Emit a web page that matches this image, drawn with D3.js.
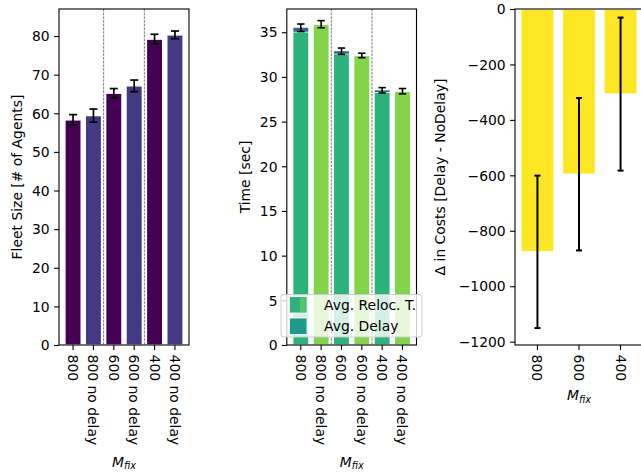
<!DOCTYPE html>
<html>
<head>
<meta charset="utf-8">
<script src="https://cdn.jsdelivr.net/npm/d3@7"></script>
<style>
  html, body { margin: 0; padding: 0; background: #fff; }
  text { font-family: "DejaVu Sans", sans-serif; }
</style>
</head>
<body>
<svg id="fig" width="641" height="473"></svg>
<script>
// Categories and measured values
const categories = ["800", "800 no delay", "600", "600 no delay", "400", "400 no delay"];
const fleetSize = [58.3, 59.4, 65.2, 67.1, 79.2, 80.3];
const fleetErr = [1.35, 1.7, 1.2, 1.5, 1.25, 1.0];

const relocTime = [35.05, 35.9, 32.6, 32.4, 28.3, 28.4];
const delayTime = [0.45, 0, 0.28, 0, 0.2, 0];
const timeErr = [0.42, 0.4, 0.35, 0.25, 0.3, 0.3];

const deltaCats = ["800", "600", "400"];
const deltaCost = [-876, -596, -307];
const deltaErr = [275, 275, 276];

const fleetTicks = [0, 10, 20, 30, 40, 50, 60, 70, 80];
const timeTicks = [0, 5, 10, 15, 20, 25, 30, 35];
const costTicks = [-1200, -1000, -800, -600, -400, -200, 0];

// Colours
const fleetColors = ["#440154", "#443983"];
const relocColors = ["#2db27d", "#84d44b"];
const delayColor = "#31688e";
const deltaColor = "#fde725";

const FS = 13.9;
const svg = d3.select("#fig");

function panel(opts) {
  const g = svg.append("g");
  const x = d3.scaleLinear().domain(opts.xdom).range([opts.left, opts.right]);
  const y = d3.scaleLinear().domain(opts.ydom).range([opts.bottom, opts.top]);
  return { g, x, y, ...opts };
}

function drawFrame(p, opts) {
  const g = p.g;
  // spines
  g.append("rect")
    .attr("x", p.left).attr("y", p.top)
    .attr("width", p.right - p.left).attr("height", p.bottom - p.top)
    .attr("fill", "none").attr("stroke", "#000").attr("stroke-width", 1.1);
  // y axis
  const yAxis = d3.axisLeft(p.y).tickValues(opts.yticks).tickSize(4.9).tickPadding(4.4)
    .tickFormat(d => d3.format("d")(d).replace("-", "\u2212"));
  const ya = g.append("g").attr("transform", `translate(${p.left},0)`).call(yAxis);
  ya.select(".domain").remove();
  ya.selectAll("line").attr("stroke", "#000").attr("stroke-width", 1.1);
  ya.selectAll("text").attr("font-size", FS).attr("fill", "#000")
    .attr("font-family", "DejaVu Sans, sans-serif").attr("dy", "0.34em");
  // x axis with rotated category labels
  const xa = g.append("g");
  opts.xcats.forEach((c, i) => {
    const xx = p.x(i);
    xa.append("line").attr("x1", xx).attr("x2", xx)
      .attr("y1", p.bottom).attr("y2", p.bottom + 4.9)
      .attr("stroke", "#000").attr("stroke-width", 1.1);
    xa.append("text")
      .attr("transform", `translate(${xx},${p.bottom + 9.6}) rotate(90)`)
      .attr("dy", "0.36em").attr("text-anchor", "start")
      .attr("font-size", FS).attr("fill", "#000").text(c);
  });
  // y label
  g.append("text")
    .attr("transform", `translate(${opts.ylabelX},${(p.top + p.bottom) / 2}) rotate(-90)`)
    .attr("text-anchor", "middle").attr("dy", "0.36em")
    .attr("font-size", FS).attr("fill", "#000").text(opts.ylabel);
  // x label M_fix
  const xl = g.append("text")
    .attr("x", (p.left + p.right) / 2).attr("y", opts.xlabelY)
    .attr("text-anchor", "middle").attr("font-size", FS).attr("fill", "#000");
  xl.append("tspan").attr("font-style", "italic").text("M");
  xl.append("tspan").attr("font-style", "italic").attr("font-size", FS * 0.7)
    .attr("dy", 2.6).text("fix");
}

function errorBars(p, centers, errs, half, lw) {
  centers.forEach((v, i) => {
    const xx = p.x(i);
    const y1 = p.y(v - errs[i]), y2 = p.y(v + errs[i]);
    p.g.append("line").attr("x1", xx).attr("x2", xx).attr("y1", y1).attr("y2", y2)
      .attr("stroke", "#000").attr("stroke-width", lw);
    [y1, y2].forEach(yy => p.g.append("line")
      .attr("x1", xx - half).attr("x2", xx + half).attr("y1", yy).attr("y2", yy)
      .attr("stroke", "#000").attr("stroke-width", lw));
  });
}

function separators(p, positions) {
  positions.forEach(pos => {
    p.g.append("line").attr("x1", p.x(pos)).attr("x2", p.x(pos))
      .attr("y1", p.top).attr("y2", p.bottom)
      .attr("stroke", "#444").attr("stroke-width", 0.7)
      .attr("stroke-dasharray", "2.6,1.1");
  });
}

// ---------- Panel 1: fleet size ----------
const p1 = panel({ left: 59, right: 189, top: 9, bottom: 345, xdom: [-0.69, 5.69], ydom: [0, 87] });
const bw1 = (p1.x(1) - p1.x(0)) * 0.8;
p1.g.selectAll("rect.bar").data(fleetSize).join("rect")
  .attr("class", "bar")
  .attr("x", (d, i) => p1.x(i) - bw1 / 2).attr("width", bw1)
  .attr("y", d => p1.y(d)).attr("height", d => p1.y(0) - p1.y(d))
  .attr("fill", (d, i) => fleetColors[i % 2])
  .attr("stroke", "#fff").attr("stroke-width", 1.4);
separators(p1, [1.5, 3.5]);
errorBars(p1, fleetSize, fleetErr, 4, 1.7);
drawFrame(p1, { yticks: fleetTicks, xcats: categories, ylabel: "Fleet Size [# of Agents]", ylabelX: 16.5, xlabelY: 466.5 });

// ---------- Panel 2: time ----------
const p2 = panel({ left: 286.8, right: 416.5, top: 9, bottom: 345, xdom: [-0.69, 5.69], ydom: [0, 37.6] });
const bw2 = (p2.x(1) - p2.x(0)) * 0.8;
p2.g.selectAll("rect.reloc").data(relocTime).join("rect")
  .attr("class", "reloc")
  .attr("x", (d, i) => p2.x(i) - bw2 / 2).attr("width", bw2)
  .attr("y", d => p2.y(d)).attr("height", d => p2.y(0) - p2.y(d))
  .attr("fill", (d, i) => relocColors[i % 2])
  .attr("stroke", "#fff").attr("stroke-width", 1.4);
// delay stacked on top of relocation time
delayTime.forEach((d, i) => {
  if (d <= 0) return;
  p2.g.append("rect")
    .attr("x", p2.x(i) - bw2 / 2 + 0.7).attr("width", bw2 - 1.4)
    .attr("y", p2.y(relocTime[i] + d)).attr("height", p2.y(relocTime[i]) - p2.y(relocTime[i] + d))
    .attr("fill", delayColor);
});
separators(p2, [1.5, 3.5]);
const timeTotals = relocTime.map((r, i) => r + delayTime[i]);
errorBars(p2, timeTotals, timeErr, 3.7, 1.6);
drawFrame(p2, { yticks: timeTicks, xcats: categories, ylabel: "Time [sec]", ylabelX: 245, xlabelY: 466.5 });

// legend
const lg = p2.g.append("g");
lg.append("rect").attr("x", 281).attr("y", 294.5).attr("width", 141).attr("height", 42.5)
  .attr("rx", 3).attr("fill", "#fff").attr("fill-opacity", 0.8)
  .attr("stroke", "#ccc").attr("stroke-width", 1);
lg.append("rect").attr("x", 289.5).attr("y", 296.5).attr("width", 17.5).attr("height", 16.5)
  .attr("fill", relocColors[0]).attr("stroke", "#fff").attr("stroke-width", 0.8);
lg.append("rect").attr("x", 300).attr("y", 297.5).attr("width", 5.5).attr("height", 14.5)
  .attr("fill", "#55c667");
lg.append("rect").attr("x", 289.5).attr("y", 318).attr("width", 17.5).attr("height", 16.5)
  .attr("fill", "#21998a").attr("stroke", "#fff").attr("stroke-width", 0.8);
lg.append("text").attr("x", 324).attr("y", 310).attr("font-size", FS).attr("fill", "#000").text("Avg. Reloc. T.");
lg.append("text").attr("x", 324).attr("y", 331).attr("font-size", FS).attr("fill", "#000").text("Avg. Delay");

// ---------- Panel 3: cost difference ----------
const p3 = panel({ left: 515, right: 643, top: 9, bottom: 345, xdom: [-0.54, 2.54], ydom: [-1212, 0] });
const bw3 = (p3.x(1) - p3.x(0)) * 0.8;
p3.g.selectAll("rect.bar").data(deltaCost).join("rect")
  .attr("class", "bar")
  .attr("x", (d, i) => p3.x(i) - bw3 / 2).attr("width", bw3)
  .attr("y", d => p3.y(0)).attr("height", d => p3.y(d) - p3.y(0))
  .attr("fill", deltaColor)
  .attr("stroke", "#fff").attr("stroke-width", 1.4);
errorBars(p3, deltaCost, deltaErr, 3, 2);
drawFrame(p3, { yticks: costTicks, xcats: deltaCats, ylabel: "\u0394 in Costs [Delay - NoDelay]", ylabelX: 440, xlabelY: 400 });
</script>
</body>
</html>
